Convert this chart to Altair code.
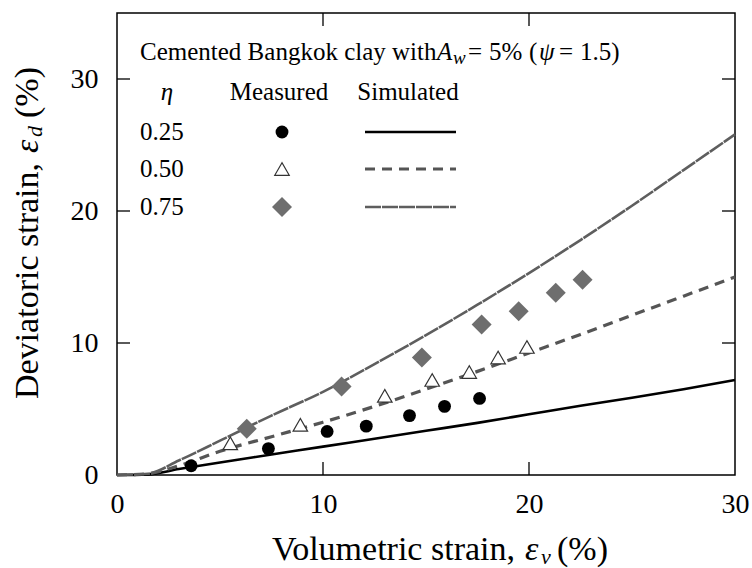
import altair as alt
import pandas as pd

FONT = "Liberation Serif"
L, T = 117, 13          # plot-area offset inside the page
W, H = 618, 462         # plot-area size

# ---------------- data ----------------
x_ticks = [0, 10, 20, 30]
y_ticks = [0, 10, 20, 30]

# simulated curves
ev_sim = [0, 1.5, 3, 5, 7.5, 10, 12.5, 15, 17.5, 20, 22.5, 25, 27.5, 30]
ed_sim_025 = [0, 0.05, 0.45, 0.95, 1.55, 2.15, 2.75, 3.35, 3.95, 4.6, 5.25, 5.85, 6.5, 7.2]
ed_sim_050 = [0, 0.1, 0.7, 1.8, 2.9, 4.0, 5.2, 6.5, 7.85, 9.25, 10.65, 12.1, 13.55, 15.0]
ed_sim_075 = [0, 0.1, 1.1, 2.6, 4.5, 6.3, 8.4, 10.6, 12.9, 15.3, 17.8, 20.4, 23.1, 25.8]

# measured points
ev_m025 = [3.6, 7.35, 10.2, 12.1, 14.2, 15.9, 17.6]
ed_m025 = [0.7, 2.0, 3.3, 3.7, 4.5, 5.2, 5.8]
ev_m050 = [5.5, 8.9, 13.0, 15.3, 17.1, 18.5, 19.9]
ed_m050 = [2.4, 3.8, 6.0, 7.2, 7.8, 8.9, 9.7]
ev_m075 = [6.3, 10.9, 14.8, 17.7, 19.5, 21.3, 22.6]
ed_m075 = [3.5, 6.7, 8.9, 11.4, 12.4, 13.8, 14.8]

eta_labels = ["0.25", "0.50", "0.75"]

# ---------------- styles ----------------
x_scale = alt.Scale(domain=[0, 30], nice=False, zero=False)
y_scale = alt.Scale(domain=[0, 35], nice=False, zero=False)

axis_common = dict(grid=False, ticks=False, tickSize=0, domain=False,
                   labelFont=FONT, labelFontSize=28, labelColor="black",
                   labelFlush=False, title="", format="d")
x_axis = alt.Axis(values=x_ticks, labelPadding=15, **axis_common)
y_axis = alt.Axis(values=y_ticks, labelPadding=19, **axis_common)

ONE = alt.Data(values=[{"k": 0}])


def X(field):
    return alt.X(field, scale=x_scale, axis=x_axis)


def Y(field):
    return alt.Y(field, scale=y_scale, axis=y_axis)


def text(s, px, py, size=25, italic=False, align="left", angle=None):
    kw = dict(text=s, font=FONT, fontSize=size, align=align,
              baseline="middle", color="black")
    if italic:
        kw["fontStyle"] = "italic"
    if angle is not None:
        kw["angle"] = angle
    return alt.Chart(ONE).mark_text(**kw).encode(
        x=alt.value(px - L), y=alt.value(py - T))


def sim_line(ys, color, width, dash=None):
    df = pd.DataFrame({"ev": ev_sim, "ed": ys})
    kw = dict(color=color, strokeWidth=width, interpolate="monotone")
    if dash:
        kw["strokeDash"] = dash
    return alt.Chart(df).mark_line(**kw).encode(x=X("ev:Q"), y=Y("ed:Q"))


def meas(xs, ys, **mk):
    df = pd.DataFrame({"ev": xs, "ed": ys})
    return alt.Chart(df).mark_point(opacity=1, **mk).encode(x=X("ev:Q"), y=Y("ed:Q"))


C025 = dict(color="black", width=2.6, dash=None)
C050 = dict(color="#555555", width=3.2, dash=[10, 7])
C075 = dict(color="#5e5e5e", width=2.6, dash=[16, 1])

M025 = dict(shape="circle", size=165, filled=True, color="black")
M050 = dict(shape="triangle-up", size=210, filled=True, fill="white",
            stroke="#333333", strokeWidth=1.2)
M075 = dict(shape="diamond", size=400, filled=True, color="#6e6e6e")

layers = [
    sim_line(ed_sim_025, C025["color"], C025["width"]),
    sim_line(ed_sim_050, C050["color"], C050["width"], C050["dash"]),
    sim_line(ed_sim_075, C075["color"], C075["width"], C075["dash"]),
    meas(ev_m025, ed_m025, **M025),
    meas(ev_m050, ed_m050, **M050),
    meas(ev_m075, ed_m075, **M075),
]

# inward tick marks on all four sides
xt = pd.DataFrame({"v": [v for v in x_ticks if 0 < v < 30]})
yt = pd.DataFrame({"v": [v for v in y_ticks if v > 0]})
tick_style = dict(color="black", strokeWidth=1.3)
layers += [
    alt.Chart(xt).mark_rule(**tick_style).encode(
        x=X("v:Q"), y=alt.value(H), y2=alt.value(H - 13)),
    alt.Chart(xt).mark_rule(**tick_style).encode(
        x=X("v:Q"), y=alt.value(0), y2=alt.value(13)),
    alt.Chart(yt).mark_rule(**tick_style).encode(
        y=Y("v:Q"), x=alt.value(0), x2=alt.value(13)),
    alt.Chart(yt).mark_rule(**tick_style).encode(
        y=Y("v:Q"), x=alt.value(W), x2=alt.value(W - 13)),
]

# legend (inside the plot)
layers += [
    text("Cemented Bangkok clay with", 140, 52),
    text("A", 437, 52, italic=True),
    text("w", 453, 58, size=19, italic=True),
    text("=", 468, 52),
    text("5%", 489, 52),
    text("(", 529, 52),
    text("ψ", 539, 52, italic=True),
    text("=", 559, 52),
    text("1.5)", 580, 52),
    text("η", 167, 92, italic=True, align="center"),
    text("Measured", 279, 92, align="center"),
    text("Simulated", 408, 92, align="center"),
]
rows_y = [132, 169, 207]
styles = [(C025, M025), (C050, M050), (C075, M075)]
for lab, ry, (cs, ms) in zip(eta_labels, rows_y, styles):
    layers.append(text(lab, 140, ry))
    layers.append(alt.Chart(ONE).mark_point(opacity=1, **ms).encode(
        x=alt.value(282 - L), y=alt.value(ry - T)))
    rk = dict(color=cs["color"], strokeWidth=cs["width"])
    if cs["dash"]:
        rk["strokeDash"] = cs["dash"]
    layers.append(alt.Chart(ONE).mark_rule(**rk).encode(
        x=alt.value(365 - L), x2=alt.value(456 - L), y=alt.value(ry - T)))

# axis titles (with italic symbols and subscripts)
layers += [
    text("Volumetric strain,", 272, 550, size=34),
    text("ε", 525, 550, size=34, italic=True),
    text("v", 541, 557, size=22, italic=True),
    text("(%)", 557, 550, size=34),
    text("Deviatoric strain,", 28, 399, size=34, angle=270),
    text("ε", 28, 153, size=34, italic=True, angle=270),
    text("d", 35, 137, size=22, italic=True, angle=270),
    text("(%)", 28, 118, size=34, angle=270),
]

chart = alt.layer(*layers).properties(
    width=W, height=H,
    padding={"left": L, "top": T, "right": 752 - L - W, "bottom": 568 - T - H},
    autosize=alt.AutoSizeParams(type="none"),
).configure_view(
    stroke="black", strokeWidth=1.5
).configure_axis(
    labelFont=FONT, labelFontSize=28, labelColor="black"
)

chart.save("out.html", embed_options={"renderer": "svg", "actions": False})
